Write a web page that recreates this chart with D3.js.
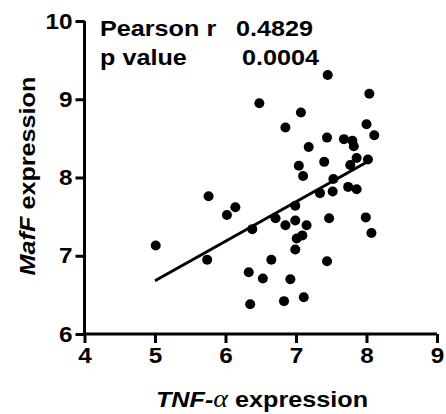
<!DOCTYPE html>
<html>
<head>
<meta charset="utf-8">
<script src="https://cdn.jsdelivr.net/npm/d3@7"></script>
<style>
html,body{margin:0;padding:0;background:#fff;}
svg{display:block;}
text{font-family:"Liberation Sans",Arial,sans-serif;font-weight:bold;fill:#000;}
</style>
</head>
<body>
<svg id="chart" width="446" height="414"></svg>
<script>
// TNF-alpha expression (x) and MafF expression (y)
const tnfValues = [7.45,6.48,8.04,7.07,6.85,8.00,8.11,7.44,7.68,7.80,7.82,7.18,7.86,8.02,7.40,7.04,7.77,7.10,7.53,7.34,7.52,7.74,7.86,6.99,6.71,6.85,6.99,7.15,7.47,7.99,8.07,7.01,7.09,6.99,6.65,7.44,6.53,6.92,6.83,7.11,5.76,6.14,6.02,5.01,6.38,5.74,6.33,6.35];
const mafValues = [9.31,8.95,9.07,8.83,8.64,8.68,8.54,8.51,8.49,8.47,8.40,8.39,8.25,8.23,8.20,8.15,8.16,8.02,7.98,7.80,7.82,7.88,7.85,7.64,7.48,7.39,7.45,7.39,7.48,7.49,7.29,7.22,7.26,7.08,6.95,6.93,6.71,6.70,6.42,6.47,7.76,7.62,7.52,7.13,7.34,6.95,6.79,6.38];
// fitted regression line endpoints
const fitX = [5.0, 8.07];
const fitY = [6.68, 8.23];
const xTicks = [4,5,6,7,8,9];
const yTicks = [6,7,8,9,10];
const statLabels = ["Pearson r", "p value"];
const statValues = ["0.4829", "0.0004"];

const svg = d3.select("#chart");
const x = d3.scaleLinear().domain([4,9]).range([84.5,437]);
const y = d3.scaleLinear().domain([6,10]).range([334,21]);
const SX = 1.12;

// axes
const xAxis = svg.append("g").attr("transform","translate(0,334)")
  .call(d3.axisBottom(x).tickValues(xTicks).tickFormat(d3.format("d")).tickSize(9).tickSizeOuter(0).tickPadding(4));
const yAxis = svg.append("g").attr("transform","translate(84.5,0)")
  .call(d3.axisLeft(y).tickValues(yTicks).tickFormat(d3.format("d")).tickSize(9).tickSizeOuter(0).tickPadding(2));
[xAxis,yAxis].forEach(a=>{
  a.select(".domain").attr("stroke","#000").attr("stroke-width",3);
  a.selectAll(".tick line").attr("stroke","#000").attr("stroke-width",3);
  a.selectAll(".tick text").attr("font-size",22.5).attr("font-family","Liberation Sans, Arial, sans-serif")
    .attr("font-weight","bold").attr("fill","#000").attr("transform",`scale(1.08,1)`);
});
xAxis.select(".domain").attr("d",`M${x(4)-1.5},0H${x(9)}`);
yAxis.select(".domain").attr("d",`M0,${y(10)}V${334+1.5}`);

// regression line
svg.append("line")
  .attr("x1",x(fitX[0])).attr("y1",y(fitY[0]))
  .attr("x2",x(fitX[1])).attr("y2",y(fitY[1]))
  .attr("stroke","#000").attr("stroke-width",3);

// points
svg.append("g").selectAll("circle").data(tnfValues.map((v,i)=>[v,mafValues[i]]))
  .join("circle")
  .attr("cx",d=>x(d[0])).attr("cy",d=>y(d[1])).attr("r",5).attr("fill","#000");

// stats text
function label(tx,ty,str){
  return svg.append("text").attr("transform",`translate(${tx},${ty}) scale(${SX},1)`).attr("font-size",22.5).text(str);
}
label(100,36,statLabels[0]);
label(236,36,statValues[0]);
label(100,65,statLabels[1]);
label(242,65,statValues[1]);

// x title
const xt = svg.append("text").attr("transform",`translate(262,407) scale(${SX},1)`).attr("text-anchor","middle").attr("font-size",22.5);
xt.append("tspan").attr("font-style","italic").text("TNF-");
xt.append("tspan").attr("font-family","Liberation Serif, Times New Roman, serif").attr("font-style","italic").attr("font-weight","normal").attr("font-size",25).text("α");
xt.append("tspan").text(" expression");

// y title
const yt = svg.append("text").attr("transform",`translate(35,176) rotate(-90) scale(${SX},1)`).attr("text-anchor","middle").attr("font-size",22.5);
yt.append("tspan").attr("font-style","italic").text("MafF");
yt.append("tspan").text(" expression");
</script>
</body>
</html>
